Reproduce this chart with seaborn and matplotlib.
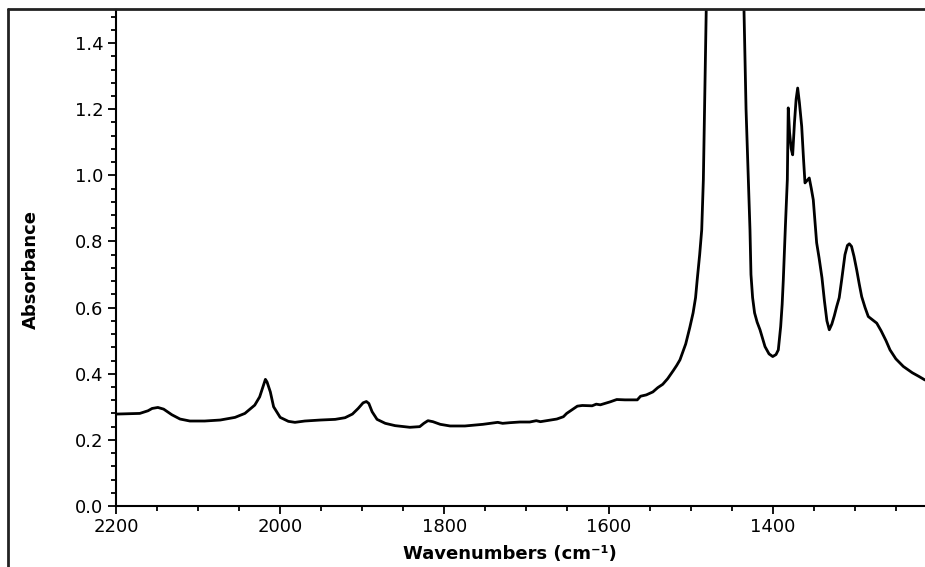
import numpy as np
import pandas as pd
import seaborn as sns
import matplotlib.pyplot as plt
from matplotlib.lines import Line2D
from matplotlib.ticker import MultipleLocator

# wavenumbers (cm-1) and absorbance
wavenumber = [
    2200, 2183, 2171, 2161, 2156, 2149, 2142, 2132, 2122, 2110,
    2092, 2073, 2055, 2043, 2031, 2025, 2021, 2018, 2016, 2012,
    2008, 2000, 1990, 1982, 1970, 1951, 1933, 1921, 1912, 1905,
    1899, 1895, 1892, 1888, 1882, 1872, 1860, 1842, 1830, 1825,
    1820, 1814, 1805, 1793, 1775, 1753, 1744, 1735, 1729, 1720,
    1708, 1696, 1688, 1683, 1671, 1663, 1655, 1651, 1645, 1638,
    1632, 1620, 1615, 1610, 1598, 1590, 1580, 1565, 1561, 1554,
    1546, 1540, 1534, 1528, 1521, 1517, 1513, 1506, 1501, 1497,
    1494, 1492, 1489, 1486.5, 1484.5, 1483, 1481, 1476, 1466, 1458,
    1449, 1440, 1435, 1432.5, 1429.7, 1427.7, 1426.5, 1424.5, 1422.1, 1419,
    1415.5, 1409.4, 1404.5, 1400, 1396, 1393.2, 1390.3, 1388.5, 1387.1, 1384.5,
    1382.2, 1381.1, 1379.5, 1377.5, 1375.7, 1373.5, 1371.5, 1369.6, 1367.5, 1364.7,
    1362.5, 1360.7, 1358, 1355.5, 1353, 1350.6, 1348.5, 1346.5, 1343.5, 1340,
    1337, 1334, 1331.1, 1328, 1325, 1322.1, 1319, 1316, 1312, 1309,
    1306.7, 1304, 1301, 1297.7, 1294.5, 1291.6, 1287.5, 1283.6, 1278, 1273.3,
    1268, 1262, 1257.1, 1250, 1240.9, 1230, 1222, 1214.5,
]
absorbance = [
    0.278, 0.279, 0.280, 0.288, 0.295, 0.298, 0.293, 0.276, 0.263, 0.257,
    0.257, 0.260, 0.268, 0.280, 0.305, 0.330, 0.360, 0.383, 0.375, 0.345,
    0.300, 0.268, 0.256, 0.253, 0.257, 0.260, 0.262, 0.267, 0.278, 0.295,
    0.312, 0.316, 0.310, 0.285, 0.262, 0.250, 0.243, 0.238, 0.240, 0.250,
    0.258, 0.255, 0.247, 0.242, 0.242, 0.247, 0.250, 0.253, 0.250, 0.252,
    0.254, 0.254, 0.258, 0.255, 0.260, 0.263, 0.270, 0.280, 0.290, 0.302,
    0.304, 0.303, 0.308, 0.306, 0.315, 0.322, 0.321, 0.321, 0.332, 0.336,
    0.345, 0.358, 0.368, 0.385, 0.410, 0.425, 0.442, 0.490, 0.540, 0.584,
    0.630, 0.684, 0.760, 0.835, 0.987, 1.200, 1.500, 2.300, 3.000, 3.300,
    3.000, 2.300, 1.500, 1.200, 0.987, 0.835, 0.700, 0.630, 0.584, 0.556,
    0.533, 0.482, 0.460, 0.452, 0.458, 0.472, 0.543, 0.610, 0.684, 0.850,
    0.987, 1.204, 1.130, 1.080, 1.062, 1.160, 1.230, 1.264, 1.220, 1.148,
    1.050, 0.977, 0.985, 0.992, 0.960, 0.926, 0.860, 0.796, 0.750, 0.690,
    0.620, 0.560, 0.533, 0.550, 0.575, 0.603, 0.630, 0.684, 0.760, 0.788,
    0.793, 0.785, 0.755, 0.714, 0.670, 0.633, 0.600, 0.573, 0.562, 0.553,
    0.530, 0.500, 0.472, 0.445, 0.422, 0.403, 0.392, 0.381,
]

df = pd.DataFrame({"Wavenumbers": wavenumber, "Absorbance": absorbance})

sns.set_style("ticks")
plt.rcParams["font.family"] = ["DejaVu Sans"]
plt.rcParams["text.color"] = "black"
plt.rcParams["axes.labelcolor"] = "black"

fig = plt.figure(figsize=(9.25, 5.67), dpi=100)
ax = fig.add_axes([116 / 925, 1 - 506 / 567, 1 - 116 / 925, (506 - 10) / 567])

sns.lineplot(x="Wavenumbers", y="Absorbance", data=df, ax=ax, color="black",
             linewidth=2, sort=False, estimator=None)

ax.set_xlim(2200, 1214.5)
ax.set_ylim(0, 1.5)
ax.xaxis.set_major_locator(MultipleLocator(200))
ax.xaxis.set_minor_locator(MultipleLocator(50))
ax.yaxis.set_major_locator(MultipleLocator(0.2))
ax.yaxis.set_minor_locator(MultipleLocator(0.04))
ax.tick_params(which="major", length=6, width=1.3, labelsize=13, pad=3,
               colors="black")
ax.tick_params(which="minor", length=3.5, width=1.3, colors="black")
ax.yaxis.set_major_formatter(plt.FormatStrFormatter("%.1f"))

for s in ["top", "right"]:
    ax.spines[s].set_visible(False)
for s in ["left", "bottom"]:
    ax.spines[s].set_linewidth(1.5)
    ax.spines[s].set_color("black")

ax.set_xlabel("Wavenumbers (cm\u207b\u00b9)", fontsize=13, fontweight="bold")
ax.set_ylabel("Absorbance", fontsize=13, fontweight="bold")
ax.xaxis.set_label_coords((510 - 116) / 809, -0.078)
ax.yaxis.set_label_coords((40 - 116) / 809, 0.476)

# outer frame of the original figure (cropped at right and bottom)
fig.add_artist(Line2D([8 / 925, 8 / 925], [0, 1 - 9 / 567], color="#222222",
                      linewidth=2, transform=fig.transFigure))
fig.add_artist(Line2D([8 / 925, 1], [1 - 9 / 567, 1 - 9 / 567], color="#222222",
                      linewidth=2, transform=fig.transFigure))

fig.savefig("out.png", dpi=100)
